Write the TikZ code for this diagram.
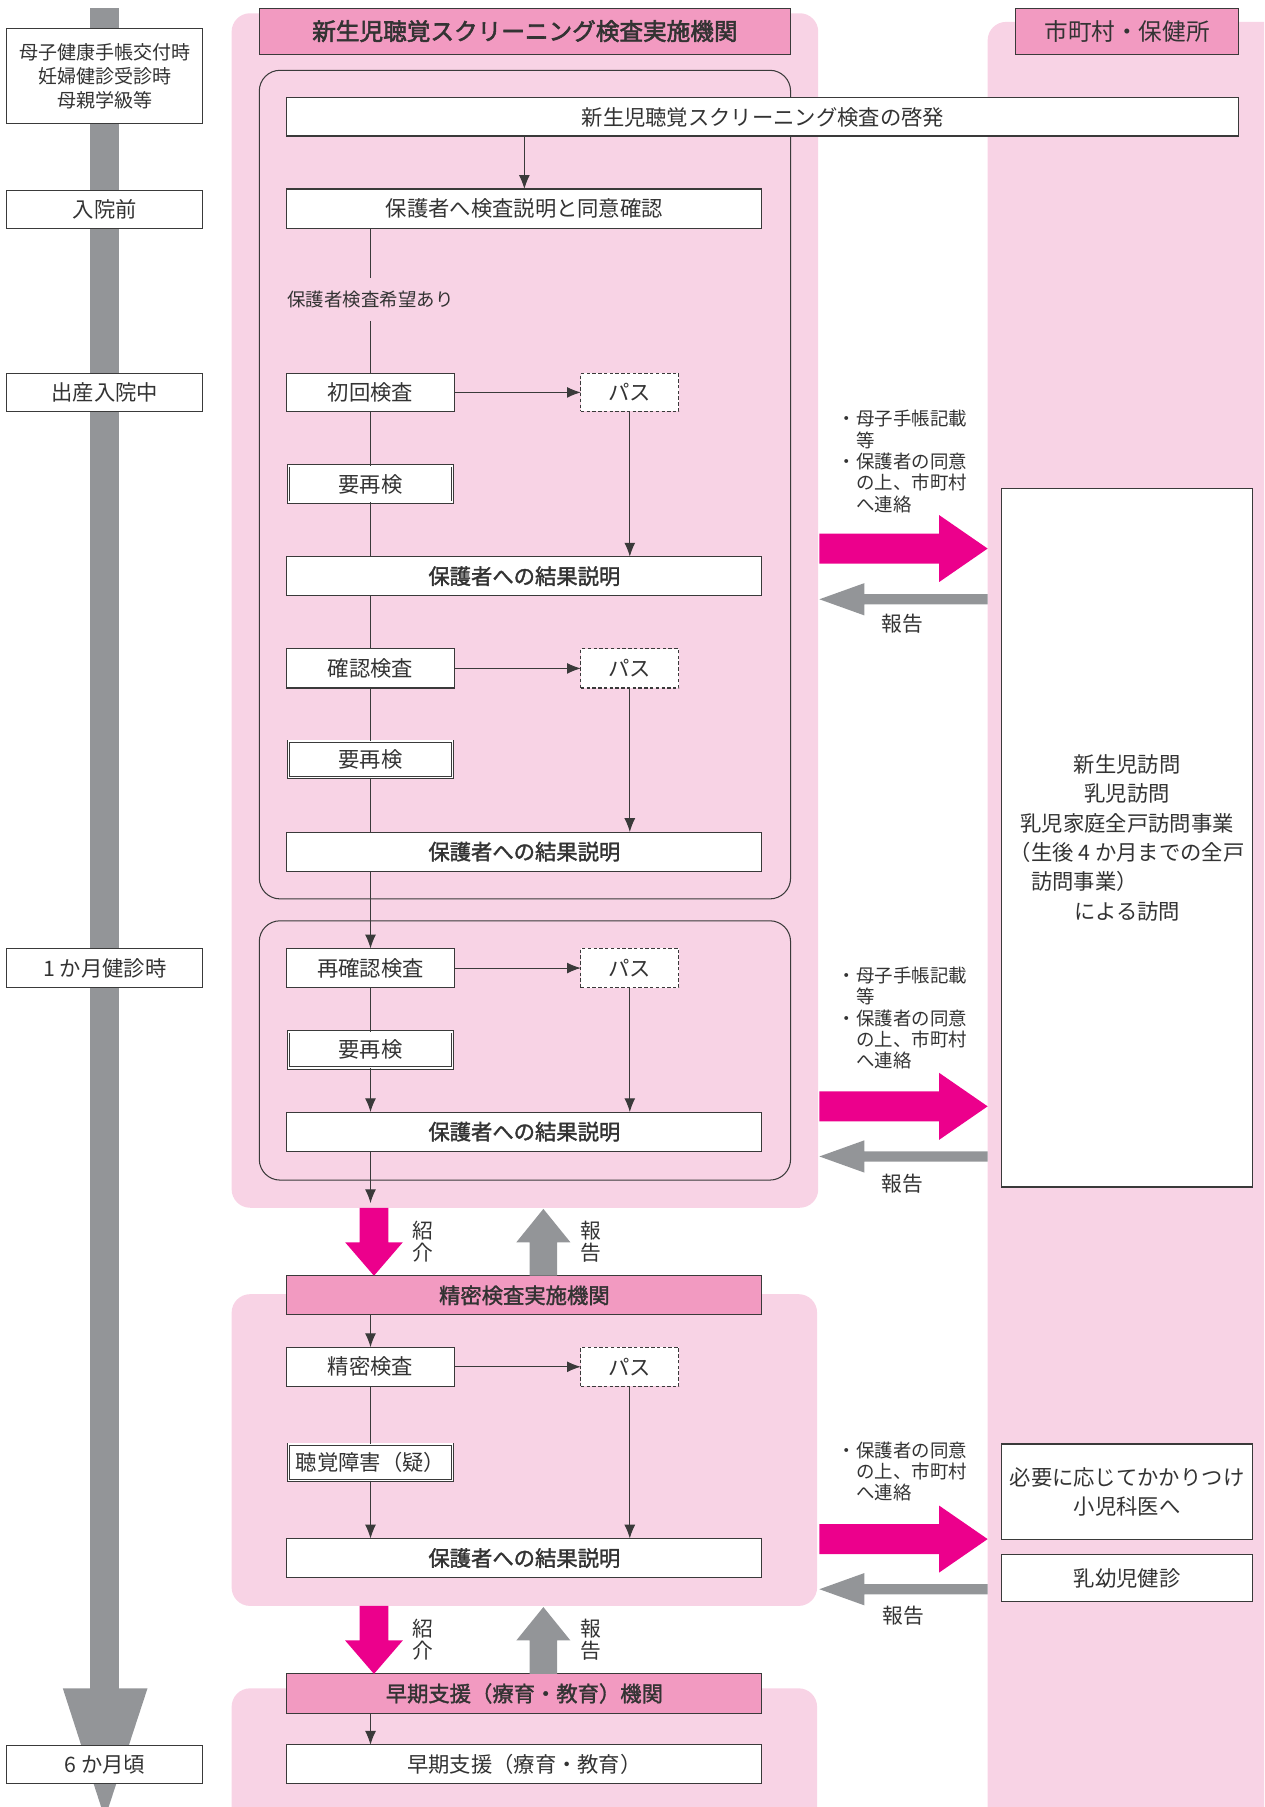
\documentclass[tikz,border=0pt]{standalone}
\usepackage{fontspec}
\setmainfont{Noto Sans CJK JP}
\newfontfamily\medf[FakeBold=1.6]{Noto Sans CJK JP}
\newfontfamily\hvyf[FakeBold=2.4]{Noto Sans CJK JP}
\usetikzlibrary{arrows.meta}
\definecolor{pk}{HTML}{F8D3E5}
\definecolor{hp}{HTML}{F29AC1}
\definecolor{mg}{HTML}{EC008C}
\definecolor{gr}{HTML}{939598}
\definecolor{tx}{HTML}{333333}
\definecolor{bd}{HTML}{3A3A3A}
\newcommand{\fsz}[2]{\fontsize{#1}{#2}\selectfont}
\newlength{\lfour}
\begin{document}
\begin{tikzpicture}[x=1pt,y=-1pt,
  every node/.style={inner sep=0pt, outer sep=0pt, text=tx},
  bx/.style={draw=bd, line width=0.9pt, fill=white, minimum height=34pt, font=\fsz{18.5}{25.5}},
  wbx/.style={bx, minimum width=412pt},
  rbx/.style={wbx, font=\fsz{18.5}{22}\medf},
  sbx/.style={bx, minimum width=145pt},
  hd/.style={bx, fill=hp, font=\fsz{18.5}{22}\medf},
  dbx/.style={bx, minimum width=142.5pt, minimum height=31.5pt, double=white, double distance=1.4pt, line width=0.7pt},
  psb/.style={bx, minimum width=85pt, dash pattern=on 3pt off 2pt},
  tlb/.style={bx, minimum width=170pt, minimum height=33pt},
  ln/.style={draw=bd, line width=0.9pt},
  ar/.style={ln, -{Latex[length=12pt,width=9.5pt]}},
  lab/.style={font=\fsz{18}{19}, align=center},
  note/.style={anchor=north west, align=left, font=\fsz{16}{18.5}}
]
\useasboundingbox (0,0) rectangle (1097,1568);
\clip (0,0) rectangle (1097,1568);

% timeline bar
\fill[gr] (78,7) rectangle (103,1466);
\fill[gr] (54.5,1465) -- (128,1465) -- (91,1578) -- cycle;

% panels
\fill[pk, rounded corners=16pt] (857,19) rectangle (1130,1620);
\fill[pk, rounded corners=16pt] (201,11.5) rectangle (710,1048);
\fill[pk, rounded corners=16pt] (201,1123) rectangle (709,1393.5);
\fill[pk, rounded corners=16pt] (201,1465) rectangle (709,1620);

\draw[bd, line width=0.9pt, rounded corners=18pt] (225,61) rectangle (686,780);
\draw[bd, line width=0.9pt, rounded corners=18pt] (225,799) rectangle (686,1024);

% timeline boxes
\node[tlb, minimum height=82pt, font=\fsz{16.5}{21}, align=center] (t1) at (91,66) {母子健康手帳交付時\\妊婦健診受診時\\母親学級等};
\node[tlb] (t2) at (91,181.5) {入院前};
\node[tlb] (t3) at (91,340.5) {出産入院中};
\node[tlb, minimum height=34pt] (t4) at (91,840) {1 か月健診時};
\node[tlb] (t5) at (91,1531.5) {6 か月頃};

% headers
\node[hd, minimum width=461pt, minimum height=40pt, font=\fsz{20.5}{24}\hvyf] (h1) at (455.5,27) {新生児聴覚スクリーニング検査実施機関};
\node[hd, minimum width=194pt, minimum height=40pt, font=\fsz{20.5}{24}] (h2) at (978,27.5) {市町村・保健所};

% screening flow
\node[bx, minimum width=826pt, minimum height=33pt] (kei) at (662,101.5) {新生児聴覚スクリーニング検査の啓発};
\node[wbx] (cons) at (455,181) {保護者へ検査説明と同意確認};
\node[font=\fsz{16}{19}, inner ysep=11pt] (hope) at (321.5,260) {保護者検査希望あり};
\node[sbx, minimum height=33pt] (first) at (321.5,340.5) {初回検査};
\node[psb, minimum height=33pt] (p1) at (546.5,340.5) {パス};
\node[dbx] (r1) at (321.5,420) {要再検};
\node[rbx] (res1) at (455,500) {保護者への結果説明};

\node[sbx] (conf) at (321.5,580) {確認検査};
\node[psb] (p2) at (546.5,580) {パス};
\node[dbx] (r2) at (321.5,659) {要再検};
\node[rbx] (res2) at (455,739) {保護者への結果説明};

\node[sbx] (reconf) at (321.5,840) {再確認検査};
\node[psb] (p3) at (546.5,840) {パス};
\node[dbx] (r3) at (321.5,911) {要再検};
\node[rbx] (res3) at (455,982) {保護者への結果説明};
\coordinate (end1) at (321.5,1044);

% precise exam
\node[hd, minimum width=412pt] (prec) at (455,1124) {精密検査実施機関};
\node[sbx] (precise) at (321.5,1186) {精密検査};
\node[psb] (p4) at (546.5,1186) {パス};
\node[dbx] (hear) at (321.5,1269) {聴覚障害（疑）};
\node[rbx] (res4) at (455,1352) {保護者への結果説明};

% early support
\node[hd, minimum width=412pt, minimum height=35pt] (early) at (455,1469.5) {早期支援（療育・教育）機関};
\node[wbx] (early2) at (455,1531) {早期支援（療育・教育）};

% right side boxes
\node[bx, minimum width=218pt, minimum height=606pt, align=center] (visit) at (978,727) {新生児訪問\\乳児訪問\\乳児家庭全戸訪問事業\\（生後 4 か月までの全戸\\\settowidth{\lfour}{（生後 4 か月までの全戸}\makebox[\lfour][l]{\hspace*{1em}訪問事業）}\\による訪問};
\node[bx, minimum width=218pt, minimum height=83pt, align=center] (ped) at (978,1294.5) {必要に応じてかかりつけ\\小児科医へ};
\node[bx, minimum width=218pt, minimum height=41pt] (chk) at (978,1369.5) {乳幼児健診};

% notes
\node[note] (n1) at (731,356) {\makebox[12pt][r]{・}母子手帳記載\\\hspace*{12pt}等\\\makebox[12pt][r]{・}保護者の同意\\\hspace*{12pt}の上、市町村\\\hspace*{12pt}へ連絡};
\node[note] (n2) at (731,839) {\makebox[12pt][r]{・}母子手帳記載\\\hspace*{12pt}等\\\makebox[12pt][r]{・}保護者の同意\\\hspace*{12pt}の上、市町村\\\hspace*{12pt}へ連絡};
\node[note] (n3) at (731,1251) {\makebox[12pt][r]{・}保護者の同意\\\hspace*{12pt}の上、市町村\\\hspace*{12pt}へ連絡};

% block arrows right/left
\foreach \c in {476,960,1335.5} {
  \fill[mg] (711,\c-13) -- (815,\c-13) -- (815,\c-29) -- (857,\c) -- (815,\c+29) -- (815,\c+13) -- (711,\c+13) -- cycle;
}
\foreach \c in {520,1003.5,1379} {
  \fill[gr] (857,\c-4.5) -- (750,\c-4.5) -- (750,\c-14) -- (711,\c) -- (750,\c+14) -- (750,\c+4.5) -- (857,\c+4.5) -- cycle;
}
\node[lab] (rp1) at (783,541) {報告};
\node[lab] (rp2) at (783,1027) {報告};
\node[lab] (rp3) at (784,1402) {報告};

% block arrows down/up
\foreach \t in {1048,1393.5} {
  \fill[mg] (312,\t) -- (337,\t) -- (337,\t+30) -- (349.5,\t+30) -- (324.5,\t+59) -- (299.5,\t+30) -- (312,\t+30) -- cycle;
}
\foreach \t in {1049,1394.5} {
  \fill[gr] (459.5,\t+58) -- (459.5,\t+29) -- (448,\t+29) -- (471.5,\t) -- (495,\t+29) -- (483.5,\t+29) -- (483.5,\t+58) -- cycle;
}
\node[lab] (sk1) at (367,1077.5) {紹\\介};
\node[lab] (sk2) at (367,1423) {紹\\介};
\node[lab] (hk1) at (513,1077.5) {報\\告};
\node[lab] (hk2) at (513,1423) {報\\告};

% connectors
\draw[ar] (cons.north |- kei.south) -- (cons.north);
\draw[ln] (cons.south -| first.north) -- (hope.north);
\draw[ln] (hope.south) -- (first.north);
\draw[ar] (first.east) -- (p1.west);
\draw[ln] (first.south) -- (r1.north);
\draw[ln] (r1.south) -- (r1.south |- res1.north);
\draw[ar] (p1.south) -- (p1.south |- res1.north);
\draw[ln] (res1.south -| conf.north) -- (conf.north);
\draw[ar] (conf.east) -- (p2.west);
\draw[ln] (conf.south) -- (r2.north);
\draw[ln] (r2.south) -- (r2.south |- res2.north);
\draw[ar] (p2.south) -- (p2.south |- res2.north);
\draw[ar] (res2.south -| reconf.north) -- (reconf.north);
\draw[ar] (reconf.east) -- (p3.west);
\draw[ln] (reconf.south) -- (r3.north);
\draw[ar] (r3.south) -- (r3.south |- res3.north);
\draw[ar] (p3.south) -- (p3.south |- res3.north);
\draw[ar] (res3.south -| r3.south) -- (end1);
\draw[ar] (prec.south -| precise.north) -- (precise.north);
\draw[ar] (precise.east) -- (p4.west);
\draw[ln] (precise.south) -- (hear.north);
\draw[ar] (hear.south) -- (hear.south |- res4.north);
\draw[ar] (p4.south) -- (p4.south |- res4.north);
\draw[ar] (early.south -| precise.south) -- (precise.south |- early2.north);
\end{tikzpicture}
\end{document}
